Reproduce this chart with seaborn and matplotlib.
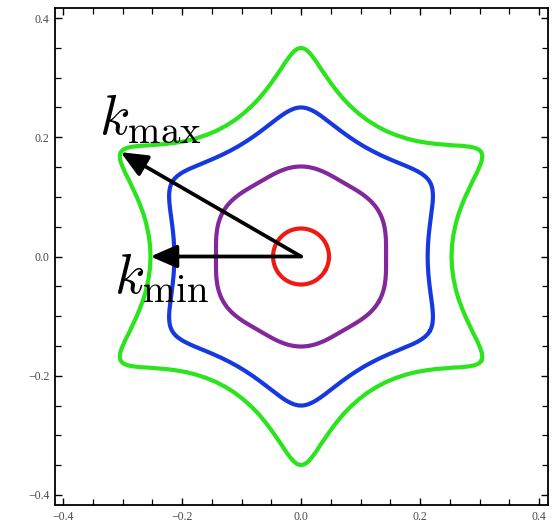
import numpy as np
import pandas as pd
import matplotlib
matplotlib.use("Agg")
import matplotlib.pyplot as plt
from matplotlib.ticker import MultipleLocator
import seaborn as sns

# ---- data (radius vs. angle from the valley direction, one 30 deg half-sector) ----
theta_deg = [0, 4, 8, 12, 15, 18, 20, 22, 24, 25.5, 27, 28, 29, 30]
r_green = [0.253, 0.2543, 0.2586, 0.266, 0.274, 0.285, 0.294, 0.3048, 0.317, 0.3278, 0.338, 0.3442, 0.3484, 0.350]
r_blue = [0.2128, 0.2137, 0.2162, 0.2205, 0.2249, 0.2302, 0.2343, 0.2385, 0.2427, 0.2455, 0.2479, 0.249, 0.2498, 0.250]
r_purple = [0.143, 0.1433, 0.1443, 0.1458, 0.147, 0.1482, 0.149, 0.1497, 0.1502, 0.1506, 0.1508, 0.1509, 0.151, 0.151]
r_red = [0.047, 0.047, 0.047, 0.047, 0.047, 0.047, 0.047, 0.047, 0.047, 0.047, 0.047, 0.047, 0.047, 0.047]

curve_names = ["red", "purple", "blue", "green"]
curve_colors = ["#ee1a12", "#82289a", "#1638e0", "#2ae41c"]
tick_values = [-0.4, -0.2, 0.0, 0.2, 0.4]
label_max = r"$k_{\max}$"
label_min = r"$k_{\min}$"

sns.set_theme(style="white")
plt.rcParams["font.family"] = ["Liberation Serif", "DejaVu Serif"]
plt.rcParams["mathtext.fontset"] = "cm"


def closed_curve(radii):
    th = np.array(theta_deg, dtype=float)
    rr = np.array(radii, dtype=float)
    ang_sec = np.concatenate([-th[::-1], th[1:]])
    r_sec = np.concatenate([rr[::-1], rr[1:]])
    angs, rs = [], []
    for s in range(6):
        angs.append(ang_sec[:-1] + 60 * s)
        rs.append(r_sec[:-1])
    angs.append(ang_sec[:1] + 360)
    rs.append(r_sec[:1])
    a = np.deg2rad(np.concatenate(angs))
    r = np.concatenate(rs)
    return r * np.cos(a), r * np.sin(a)


frames = []
for name, radii in zip(curve_names, [r_red, r_purple, r_blue, r_green]):
    x, y = closed_curve(radii)
    frames.append(pd.DataFrame({"kx": x, "ky": y, "curve": name, "order": np.arange(len(x))}))
df = pd.concat(frames, ignore_index=True)

fig = plt.figure(figsize=(5.58, 5.24), dpi=100)
fig.patch.set_facecolor("white")
ax = fig.add_axes([55 / 558, 19 / 524, 493 / 558, 497 / 524])
ax.set_facecolor("white")

sns.lineplot(data=df, x="kx", y="ky", hue="curve", hue_order=curve_names,
             palette=dict(zip(curve_names, curve_colors)), sort=False, estimator=None,
             units="curve", legend=False, linewidth=3.0, ax=ax,
             solid_joinstyle="round", solid_capstyle="round")

# arrows derived from the green curve (k_max at a tip, k_min at a valley)
ang_max = np.deg2rad(150)
kmax_pt = (max(r_green) * np.cos(ang_max), max(r_green) * np.sin(ang_max))
kmin_pt = (-min(r_green), 0.0)
arrow_kw = dict(arrowstyle="-|>,head_length=0.8,head_width=0.35", mutation_scale=20,
                lw=2.7, color="black", shrinkA=0, shrinkB=0)
ax.annotate("", xy=kmax_pt, xytext=(0, 0), arrowprops=arrow_kw, zorder=5)
ax.annotate("", xy=kmin_pt, xytext=(0, 0), arrowprops=arrow_kw, zorder=5)

ax.text(-0.339, 0.206, label_max, fontsize=40, ha="left", va="baseline", color="black")
ax.text(-0.314, -0.062, label_min, fontsize=40, ha="left", va="baseline", color="black")

ax.set_xlim(-0.4135, 0.4151)
ax.set_ylim(-0.4168, 0.4168)
ax.set_xticks(tick_values)
ax.set_yticks(tick_values)
ax.xaxis.set_minor_locator(MultipleLocator(0.05))
ax.yaxis.set_minor_locator(MultipleLocator(0.05))
ax.tick_params(which="both", direction="in", top=True, right=True, bottom=True, left=True,
               labeltop=False, labelright=False, color="black", labelcolor="#4a4a4a",
               labelsize=8.5)
ax.tick_params(which="major", length=5, width=1.0, pad=4)
ax.tick_params(which="minor", length=4, width=0.9)
ax.set_xlabel("")
ax.set_ylabel("")
for sp in ax.spines.values():
    sp.set_visible(True)
    sp.set_color("black")
    sp.set_linewidth(1.3)

fig.savefig("out.png", dpi=100, facecolor="white")
